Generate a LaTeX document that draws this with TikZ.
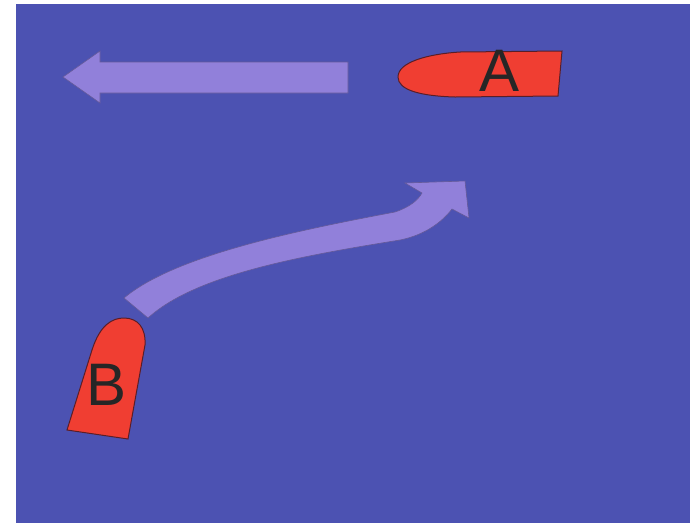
\documentclass[tikz,border=0pt]{standalone}
\usepackage{fontspec}
\setmainfont{Liberation Sans}
\definecolor{bgblue}{RGB}{76,82,178}
\definecolor{arrowviolet}{RGB}{145,128,218}
\definecolor{boatred}{RGB}{240,62,50}
\definecolor{boatedge}{RGB}{90,30,40}
\tikzset{
  boat/.style={fill=boatred, draw=boatedge, line width=1pt},
  bigarrow/.style={fill=arrowviolet, draw=arrowviolet!70!black, line width=0.6pt},
  boatlabel/.style={font=\fontsize{60}{60}\selectfont, text=black!85, inner sep=0pt}
}
\begin{document}
\begin{tikzpicture}[x=1pt,y=-1pt]
\useasboundingbox (0,0) rectangle (690,523);
\fill[white] (0,0) rectangle (690,523);
\fill[bgblue] (16,4) rectangle (690,523);
% straight arrow (boat A heading left)
\path[bigarrow] (348,62) -- (100,62) -- (100,51) -- (63,77) -- (100,103) -- (100,93) -- (348,93) -- cycle;
% boat A
\path[boat] (398,77) .. controls (398,62) and (428,54) .. (460,52) -- (562,51) -- (558,96) -- (455,97) .. controls (420,96) and (398,90) .. (398,77) -- cycle;
\node[boatlabel] (A) at (500,71) {A};
% curved arrow (boat B turning)
\path[bigarrow] (124,298) .. controls (175,255) and (300,230) .. (395,212)
  .. controls (410,207) and (418,200) .. (422,193) -- (405,183) -- (465,181) -- (469,218) -- (452,209)
  .. controls (442,222) and (425,235) .. (400,240)
  .. controls (300,256) and (195,275) .. (148,318) -- cycle;
% boat B
\path[boat] (67,430) -- (92,350) .. controls (100,325) and (112,318) .. (124,318) .. controls (138,318) and (146,328) .. (145,345) -- (128,439) -- cycle;
\node[boatlabel] (B) at (107,385) {B};
\end{tikzpicture}
\end{document}
